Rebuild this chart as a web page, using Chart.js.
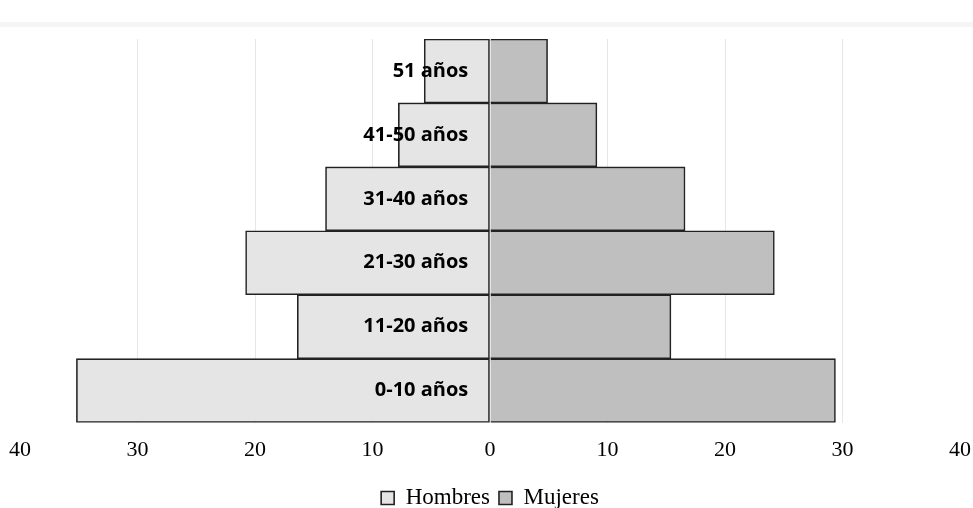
<!DOCTYPE html>
<html>
<head>
<meta charset="utf-8">
<script src="https://cdn.jsdelivr.net/npm/chart.js@4"></script>
<style>
  html, body { margin: 0; padding: 0; background: #fff; }
  #wrap { position: relative; width: 973px; height: 508px; }
  #topline { position: absolute; left: 0; top: 22px; width: 973px; height: 5px; background: #f5f5f5; }
</style>
</head>
<body>
<div id="wrap">
  <div id="topline"></div>
  <canvas id="pyramid" width="973" height="508"></canvas>
</div>
<script>
// Pirámide de edades
const ctx = document.getElementById("pyramid");

const edades = ["51 años", "41-50 años", "31-40 años", "21-30 años", "11-20 años", "0-10 años"];
const hombres = [5.6, 7.8, 14.0, 20.8, 16.4, 35.2];
const mujeres = [4.9, 9.1, 16.6, 24.2, 15.4, 29.4];
const xTicks = [-40, -30, -20, -10, 0, 10, 20, 30, 40];

new Chart(ctx, {
  type: "bar",
  data: {
    labels: edades,
    datasets: [
      {
        label: "Hombres",
        // hombres a la izquierda
        data: hombres.map((v) => -v),
        backgroundColor: "#e6e5e6",
        borderColor: "#222",
        borderWidth: 1.6,
        borderSkipped: false,
        barPercentage: 1,
        categoryPercentage: 1,
      },
      {
        label: "Mujeres",
        data: mujeres,
        backgroundColor: "#bfbfbf",
        borderColor: "#222",
        borderWidth: 1.6,
        borderSkipped: "start",
        barPercentage: 1,
        categoryPercentage: 1,
      },
    ],
  },
  options: {
    indexAxis: "y",
    responsive: false,
    animation: false,
    layout: {
      padding: { top: 39, left: 20, right: 13, bottom: -11.5 },
    },
    scales: {
      x: {
        stacked: true,
        min: -40,
        max: 40,
        afterBuildTicks: (axis) => {
          axis.ticks = xTicks.map((v) => ({ value: v }));
        },
        afterFit: (axis) => {
          // que las etiquetas de los extremos no encojan el área
          axis.paddingLeft = 0;
          axis.paddingRight = 0;
        },
        grid: {
          drawTicks: false,
          color: (c) =>
            c.tick && (c.tick.value === 0 || Math.abs(c.tick.value) === 40)
              ? "rgba(0,0,0,0)"
              : "#e6e6e6",
        },
        border: { display: false },
        ticks: {
          padding: 14.25,
          color: "#000",
          font: { family: "Liberation Serif", size: 22 },
          callback: (v) => Math.abs(v),
        },
      },
      y: {
        stacked: true,
        // etiquetas un poco a la izquierda del cero
        position: { x: -1.85 },
        grid: { display: false, drawTicks: false },
        border: { display: false },
        ticks: {
          z: 1,
          padding: 0,
          color: "#000",
          font: { family: "Open Sans", size: 20, weight: "bold" },
        },
      },
    },
    plugins: {
      tooltip: { enabled: false },
      legend: {
        position: "bottom",
        labels: {
          color: "#000",
          boxWidth: 13,
          boxHeight: 13,
          padding: 9,
          font: { family: "Liberation Serif", size: 23 },
        },
      },
    },
  },
});
</script>
</body>
</html>
